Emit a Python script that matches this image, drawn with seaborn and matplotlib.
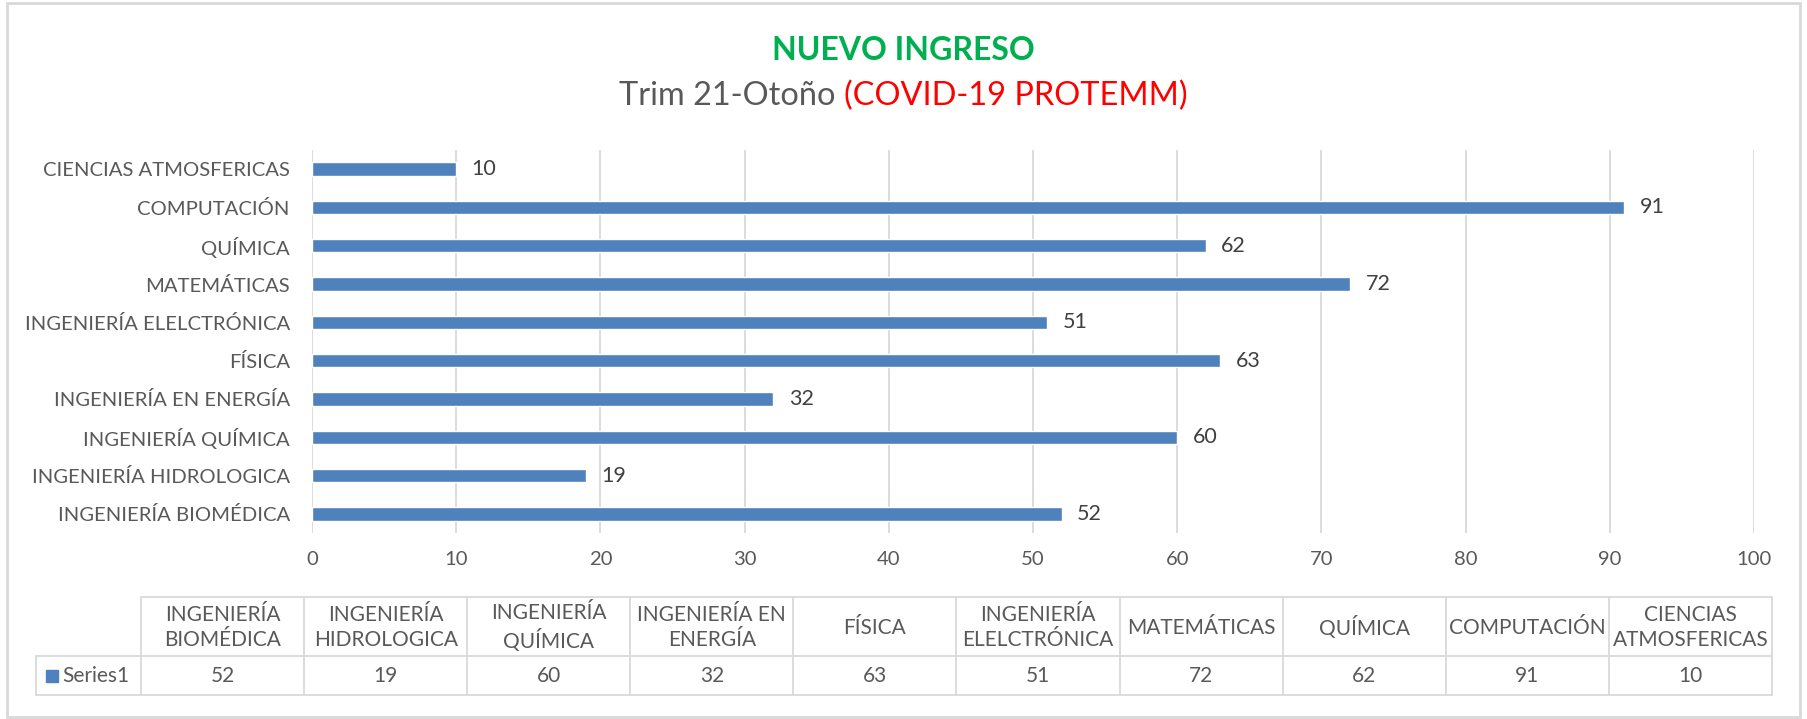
import matplotlib
matplotlib.use("Agg")
import matplotlib.pyplot as plt
import seaborn as sns
import pandas as pd
from matplotlib.lines import Line2D
from matplotlib.patches import Rectangle

# data (table order: bottom bar first)
carreras = ["INGENIERÍA BIOMÉDICA", "INGENIERÍA HIDROLOGICA", "INGENIERÍA QUÍMICA",
            "INGENIERÍA EN ENERGÍA", "FÍSICA", "INGENIERÍA ELELCTRÓNICA",
            "MATEMÁTICAS", "QUÍMICA", "COMPUTACIÓN", "CIENCIAS ATMOSFERICAS"]
ingreso = [52, 19, 60, 32, 63, 51, 72, 62, 91, 10]
# header text in the data table (wrapped as in the original)
encabezados = ["INGENIERÍA\nBIOMÉDICA", "INGENIERÍA\nHIDROLOGICA", "INGENIERÍA\nQUÍMICA",
               "INGENIERÍA EN\nENERGÍA", "FÍSICA", "INGENIERÍA\nELELCTRÓNICA",
               "MATEMÁTICAS", "QUÍMICA", "COMPUTACIÓN", "CIENCIAS\nATMOSFERICAS"]
serie = "Series1"

df = pd.DataFrame({"carrera": carreras, "ingreso": ingreso})

sns.set_style("white")
plt.rcParams["font.family"] = ["Lato", "DejaVu Sans"]

W, H = 1807, 719
fig = plt.figure(figsize=(W / 100, H / 100), dpi=100)
azul = "#4F81BD"
gris = "#595959"
linea = "#D9D9D9"

ax = fig.add_axes([312 / W, 1 - 533 / H, (1754 - 312) / W, (533 - 150) / H])
sns.barplot(data=df, y="carrera", x="ingreso", order=carreras[::-1], color=azul,
            width=0.35, saturation=1, orient="h", ax=ax)
ax.set_xlim(0, 100)
ax.set_xticks(range(0, 101, 10))
ax.set_ylim(9.5, -0.5)
ax.set_xlabel("")
ax.set_ylabel("")
ax.grid(axis="x", color=linea, linewidth=1.3)
ax.set_axisbelow(True)
for s in ax.spines.values():
    s.set_visible(False)
ax.tick_params(axis="both", length=0, labelcolor=gris, labelsize=14.6)
ax.tick_params(axis="x", pad=13)
ax.tick_params(axis="y", pad=16)
ax.bar_label(ax.containers[0], padding=11, fontsize=15.5, color="#404040")

# titles
fig.text(903 / W, 1 - 51 / H, "NUEVO INGRESO", ha="center", va="center",
         fontsize=23, fontweight="bold", color="#00B050")
r = fig.canvas.get_renderer()
t1 = fig.text(0, 1 - 96 / H, "Trim 21-Otoño ", ha="left", va="center", fontsize=23.4, color=gris)
t2 = fig.text(0, 1 - 96 / H, "(COVID-19 PROTEMM)", ha="left", va="center", fontsize=23.4, color="#FF0000")
w1 = t1.get_window_extent(r).width
w2 = t2.get_window_extent(r).width
x0 = 903 - (w1 + w2) / 2
t1.set_x(x0 / W)
t2.set_x((x0 + w1) / W)

# data table below the chart, drawn in pixel space
tab = fig.add_axes([0, 0, 1, 1], facecolor="none")
tab.set_xlim(0, W)
tab.set_ylim(H, 0)
tab.axis("off")
x_izq, x_ini, x_fin = 36, 141, 1772
y_top, y_mid, y_bot = 597, 656, 695
n = len(carreras)
cw = (x_fin - x_ini) / n
bordes = [x_ini + i * cw for i in range(n + 1)]
tab.add_line(Line2D([x_ini, x_fin], [y_top, y_top], color=linea, lw=1.3))
tab.add_line(Line2D([x_izq, x_fin], [y_mid, y_mid], color=linea, lw=1.3))
tab.add_line(Line2D([x_izq, x_fin], [y_bot, y_bot], color=linea, lw=1.3))
tab.add_line(Line2D([x_izq, x_izq], [y_mid, y_bot], color=linea, lw=1.3))
for b in bordes:
    tab.add_line(Line2D([b, b], [y_top, y_bot], color=linea, lw=1.3))
for i in range(n):
    cx = (bordes[i] + bordes[i + 1]) / 2
    tab.text(cx, (y_top + y_mid) / 2 + 1, encabezados[i], ha="center", va="center",
             fontsize=15, color=gris, linespacing=1.3)
    tab.text(cx, (y_mid + y_bot) / 2, str(ingreso[i]), ha="center", va="center",
             fontsize=15, color=gris)
tab.add_patch(Rectangle((46, 670), 12, 12, color=azul))
tab.text(62, (y_mid + y_bot) / 2, serie, ha="left", va="center", fontsize=15, color=gris)

# chart area border
tab.add_patch(Rectangle((7, 3), 1793, 714, fill=False, edgecolor=linea, lw=2))

fig.savefig("out.png", dpi=100)
